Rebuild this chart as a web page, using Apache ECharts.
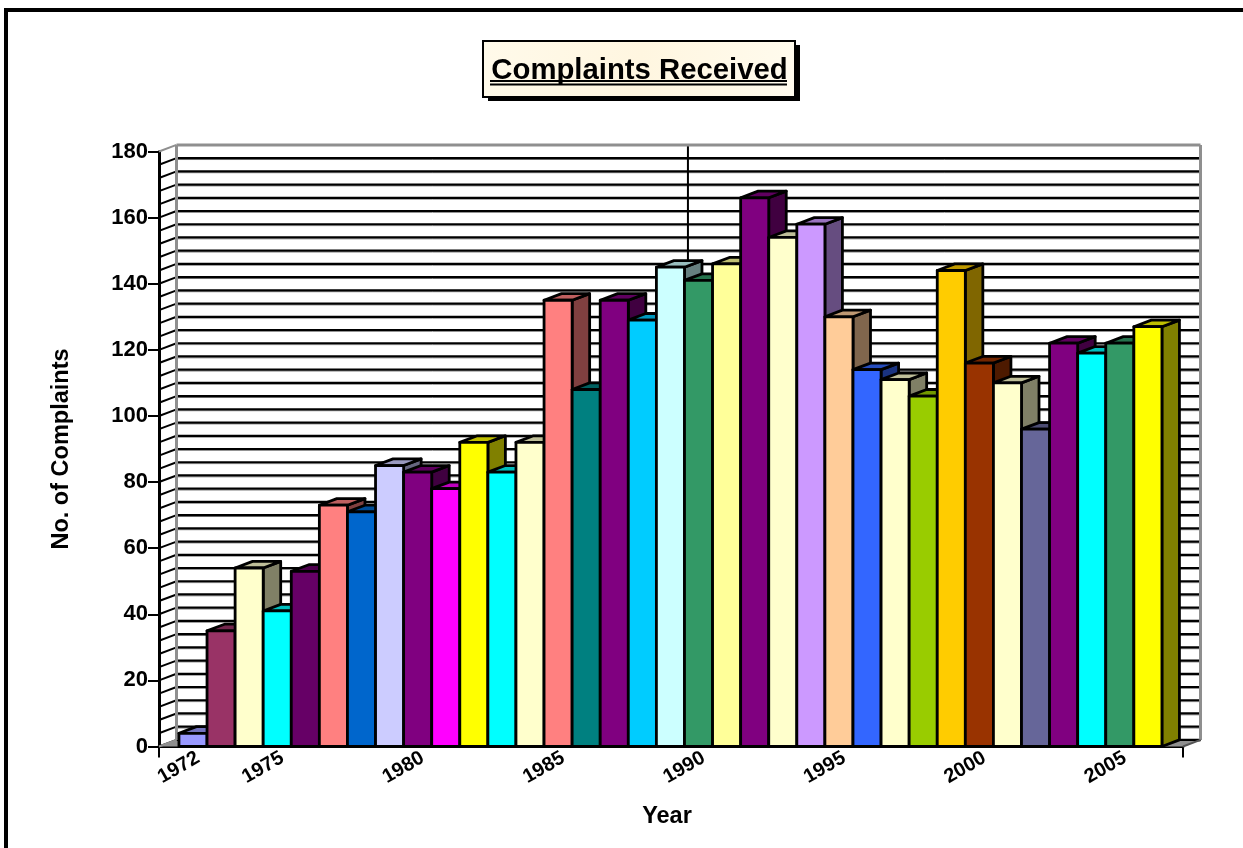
<!DOCTYPE html>
<html><head><meta charset="utf-8">
<style>html,body{margin:0;padding:0;background:#fff}#c{width:1243px;height:848px}</style>
<script src="https://cdn.jsdelivr.net/npm/echarts@6/dist/echarts.min.js"></script>
</head><body><div id="c"></div>
<script>
const years=[1972,1973,1974,1975,1976,1977,1978,1979,1980,1981,1982,1983,1984,1985,1986,1987,1988,1989,1990,1991,1992,1993,1994,1995,1996,1997,1998,1999,2000,2001,2002,2003,2004,2005,2006];
const complaints=[4,35,54,41,53,73,71,85,83,78,92,83,92,135,108,135,129,145,141,146,166,154,158,130,114,111,106,144,116,110,96,122,119,122,127];
const barColors=['#9999ff','#993366','#ffffcc','#00ffff','#660066','#ff8080','#0066cc','#ccccff','#800080','#ff00ff','#ffff00','#00ffff','#ffffcc','#ff8080','#008080','#800080','#00ccff','#ccffff','#339966','#ffff99','#800080','#ffffcc','#cc99ff','#ffcc99','#3366ff','#ffffcc','#99cc00','#ffcc00','#993300','#ffffcc','#666699','#800080','#00ffff','#339966','#ffff00'];
const yearLabels=[1972,1975,1980,1985,1990,1995,2000,2005];
const wallLines=[0,4,8,12,16,20,24,28,32,36,40,44,48,52,56,60,64,68,72,76,80,84,88,92,96,100,104,108,112,116,120,124,128,132,136,140,144,148,152,156,160,164,168,172,176];
const xMin=1970.79, xMax=2007.25, yMax=180, wallYear=1989;
const DX=17.5, DY=-6.6, labelShift=0.18;

function shade(hex,f){const n=parseInt(hex.slice(1),16);const c=[n>>16,(n>>8)&255,n&255].map(v=>Math.round(v*f));return `rgb(${c.join(',')})`;}
const line=(x1,y1,x2,y2,stroke,w)=>({type:'line',shape:{x1,y1,x2,y2},style:{stroke,lineWidth:w}});
const poly=(points,fill,w)=>({type:'polygon',shape:{points},style:{fill,stroke:'#000',lineWidth:w,lineJoin:'round'}});

function renderWallLine(p,api){
  const v=api.value(0);
  const a=api.coord([xMin,v]), b=api.coord([xMax,v]);
  const y=a[1]+DY;
  return {type:'group',children:[
    line(a[0],a[1],a[0]+DX,y,'#000',2),
    line(a[0]+DX,y+1.4,b[0]+DX,y+1.4,'#8a8a8a',1),
    line(a[0]+DX,y,b[0]+DX,y,'#000',2.2)
  ]};
}
function renderFrame(p,api){
  const o=api.coord([xMin,0]), r=api.coord([xMax,0]), t=api.coord([xMin,yMax]);
  const w=api.coord([wallYear,yMax]), w0=api.coord([wallYear,0]);
  const bl=o[0]+DX, br=r[0]+DX, by=o[1]+DY, ty=t[1]+DY;
  return {type:'group',children:[
    {type:'polygon',shape:{points:[[o[0],o[1]],[r[0],r[1]],[br,by],[bl,by]]},style:{fill:'#8f8f8f'}},
    line(bl,by,br,by,'#000',2),
    line(w[0]+DX,ty,w0[0]+DX,by,'#000',2),
    line(t[0],t[1],bl,ty,'#8f8f8f',2),
    line(o[0],o[1],bl,by,'#8f8f8f',2),
    line(bl,ty,bl,by,'#8f8f8f',3),
    line(br,ty,br,by,'#8f8f8f',3),
    line(bl,ty,br,ty,'#8f8f8f',3),
    line(r[0],r[1],br,by,'#555',2)
  ]};
}
function renderBar(p,api){
  const yr=api.value(0), v=api.value(1), col=barColors[p.dataIndex];
  const l=api.coord([yr-.5,v]), r=api.coord([yr+.5,0]);
  const x0=l[0],x1=r[0],yt=l[1],yb=r[1];
  return {type:'group',children:[
    poly([[x1,yb],[x1+DX,yb+DY],[x1+DX,yt+DY],[x1,yt]],shade(col,.5),2.8),
    poly([[x0,yt],[x1,yt],[x1+DX,yt+DY],[x0+DX,yt+DY]],shade(col,.75),2.8),
    poly([[x0,yb],[x1,yb],[x1,yt],[x0,yt]],col,2.8)
  ]};
}
const FONT='"Liberation Sans",Arial,sans-serif';
const option={
  animation:false,
  backgroundColor:'#fff',
  title:{text:'Complaints Received',left:634.5,top:48,textAlign:'center',z:20,
    textStyle:{fontFamily:FONT,fontSize:29.3,fontWeight:'bold',color:'#000',lineHeight:36}},
  grid:{left:159,right:60,top:151.5,bottom:848-746.5},
  xAxis:{type:'value',min:xMin,max:xMax,name:'Year',nameLocation:'middle',nameGap:58,nameTextStyle:{fontFamily:FONT,fontSize:23.5,fontWeight:'bold',color:'#000',padding:[0,8,0,0]},
    splitLine:{show:false},
    axisLine:{show:true,onZero:false,lineStyle:{color:'#000',width:3}},
    axisTick:{show:true,customValues:[xMin,xMax],length:11,lineStyle:{color:'#000',width:2}},
    axisLabel:{customValues:yearLabels.map(y=>y+labelShift),rotate:30,margin:10,fontFamily:FONT,fontSize:20,fontWeight:'bold',color:'#000',formatter:v=>String(Math.floor(v)),hideOverlap:false}},
  yAxis:{type:'value',min:0,max:yMax,interval:20,name:'No. of Complaints',nameLocation:'middle',nameGap:85,
    nameTextStyle:{fontFamily:FONT,fontSize:23.5,fontWeight:'bold',color:'#000'},
    splitLine:{show:false},
    axisLine:{show:true,lineStyle:{color:'#000',width:3}},
    axisTick:{show:true,length:11,lineStyle:{color:'#000',width:2}},
    axisLabel:{margin:11,fontFamily:FONT,fontSize:22,fontWeight:'bold',color:'#000'}},
  graphic:[
    {type:'rect',silent:true,z:-1,shape:{x:6,y:10,width:1300,height:900},style:{fill:'#fff',stroke:'#000',lineWidth:4}},
    {type:'rect',silent:true,z:10,shape:{x:488,y:45,width:312,height:56},style:{fill:'#000'}},
    {type:'rect',silent:true,z:11,shape:{x:483,y:41,width:312,height:56},style:{fill:{type:'linear',x:0,y:0,x2:1,y2:1,colorStops:[{offset:0,color:'#fffaea'},{offset:.5,color:'#fff6e0'},{offset:1,color:'#fffbee'}]},stroke:'#000',lineWidth:2}},
    {type:'rect',silent:true,z:12,shape:{x:490,y:80,width:297,height:2},style:{fill:'#000'}},
    {type:'rect',silent:true,z:12,shape:{x:490,y:83.5,width:297,height:2},style:{fill:'#000'}}
  ],
  series:[
    {type:'custom',coordinateSystem:'cartesian2d',clip:false,z:1,silent:true,data:wallLines.map(v=>[v]),encode:{y:0},renderItem:renderWallLine},
    {type:'custom',coordinateSystem:'cartesian2d',clip:false,z:2,silent:true,data:[[0]],encode:{y:0},renderItem:renderFrame},
    {type:'custom',coordinateSystem:'cartesian2d',clip:false,z:3,silent:true,data:years.map((y,i)=>[y,complaints[i]]),encode:{x:0,y:1},renderItem:renderBar}
  ]
};
echarts.init(document.getElementById('c'),null,{renderer:'canvas'}).setOption(option);
</script></body></html>
